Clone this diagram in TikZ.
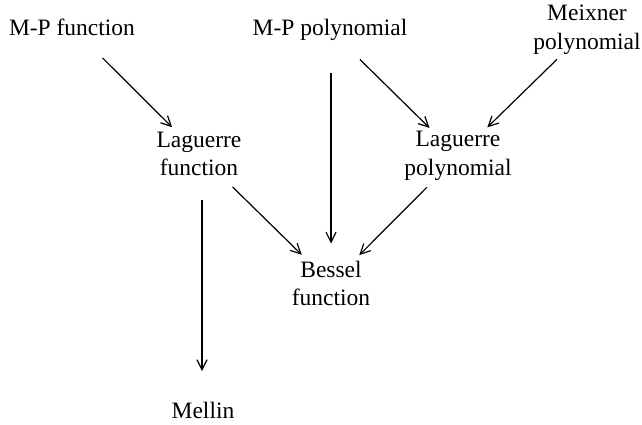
\documentclass[tikz,border=0pt]{standalone}
\usepackage{fontspec}
\setmainfont{Liberation Serif}
\usetikzlibrary{arrows.meta}
\begin{document}
\begin{tikzpicture}[x=1pt,y=-1pt,
  lbl/.style={inner sep=0pt,align=center,font=\fontsize{23.5}{28.5}\selectfont},
  arr/.style={line width=1.2pt,-{Straight Barb[length=10pt,width=10pt,line width=1.2pt]}}]
\useasboundingbox (0,0) rectangle (642,424);
\node[lbl] (mpf) at (72,27.5) {M-P function};
\node[lbl] (mpp) at (330,30) {M-P polynomial};
\node[lbl] (mx) at (587,30) {Meixner\\polynomial};
\node[lbl] (lf) at (199,154) {Laguerre\\function};
\node[lbl] (lp) at (458,156) {Laguerre\\polynomial};
\node[lbl] (bf) at (331,283.5) {Bessel\\function};
\node[lbl] (me) at (203,410) {Mellin};
\coordinate (mtop) at (202,154);
\coordinate (mbot) at (202,410);
\draw[arr,shorten <=43pt,shorten >=38pt] (mpf.center) -- (lf.center);
\draw[arr,shorten <=42pt,shorten >=40pt] (mpp.center) -- (lp.center);
\draw[arr,shorten <=42pt,shorten >=41pt] (mx.center) -- (lp.center);
\draw[arr,shorten <=47pt,shorten >=41pt] (lf.center) -- (bf.center);
\draw[arr,shorten <=44pt,shorten >=40pt] (lp.center) -- (bf.center);
\draw[arr,shorten <=43pt,shorten >=40pt] (mpp.center -| bf.center) -- (bf.center);
\draw[arr,shorten <=46pt,shorten >=39pt] (lf.center -| mtop) -- (me.center -| mbot);
\end{tikzpicture}
\end{document}
